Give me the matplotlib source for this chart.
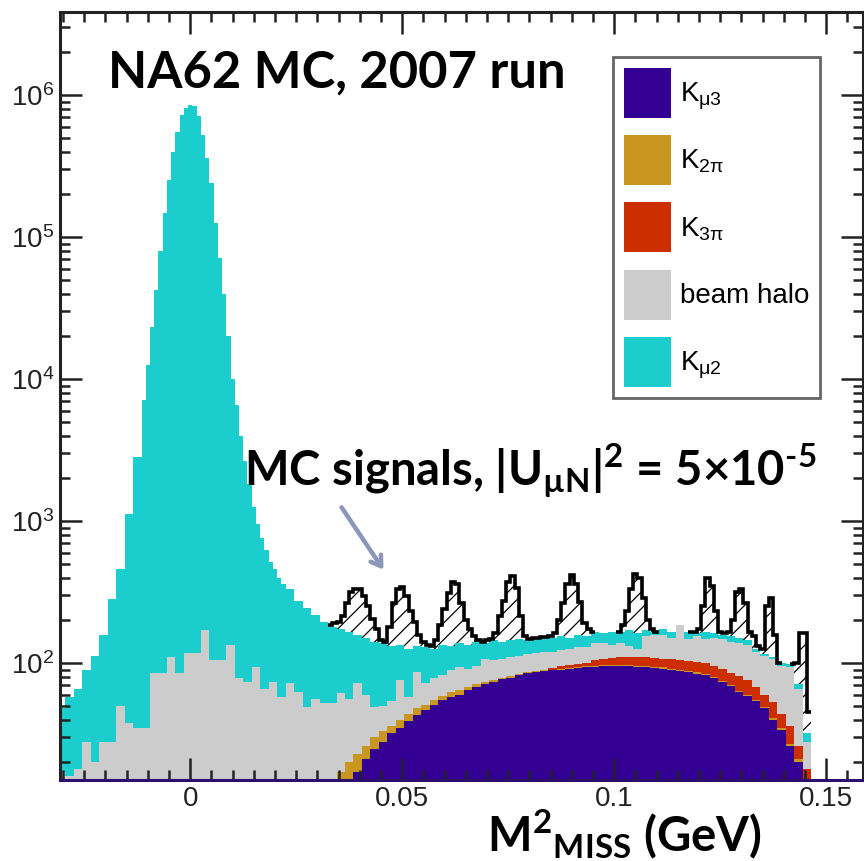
import numpy as np
import matplotlib.pyplot as plt
from matplotlib.patches import Patch
from matplotlib.ticker import MultipleLocator, LogLocator, NullFormatter, FuncFormatter

plt.rcParams['font.family'] = 'Liberation Sans'
plt.rcParams['mathtext.fontset'] = 'custom'
plt.rcParams['mathtext.rm'] = 'Lato:bold'
plt.rcParams['hatch.linewidth'] = 0.9
plt.rcParams['hatch.color'] = 'black'

# ---- histogram contents (cumulative stack heights, events / bin) ----
# K_mu2 on top of everything = total stack; variable binning around the peak
tot_left = [48, 58, 66, 89, 112, 158, 282, 457, 1120, 2820]
tot_peak = [7080, 12600, 23400, 42700, 79400, 148000, 251000, 398000, 550000, 724000,
            813000, 851000, 832000, 708000, 525000, 363000, 240000, 126000, 70800, 39800,
            20000, 10000, 6600, 4000, 2630, 1820, 1260, 955, 760, 630,
            513, 457, 398, 363]
tot_right = [331, 275, 245, 219, 195, 178, 174, 166, 158, 151,
             141, 138, 132, 135, 126, 132, 129, 126, 135, 132,
             138, 135, 141, 138, 145, 141, 145, 148, 145, 148,
             151, 151, 155, 151, 158, 155, 166, 162, 166, 166,
             170, 162, 170, 166, 174, 166, 186, 166, 162, 166,
             162, 158, 155, 151, 145, 126, 115, 110, 100, 98,
             71, 32, 0]

# beam halo + K3pi + K2pi + Kmu3
lvl_halo = [17, 16, 18, 28, 20, 28, 28, 50, 38, 35,
            35, 85, 85, 110, 85, 117, 117, 170, 105, 105,
            135, 78, 74, 93, 66, 74, 58, 72, 63, 49,
            56, 52, 52, 62, 56, 72, 60, 49, 50, 54,
            76, 58, 87, 72, 79, 83, 89, 93, 91, 95,
            107, 105, 107, 110, 112, 115, 117, 120, 120, 123,
            126, 129, 129, 138, 138, 135, 138, 132, 126, 155,
            158, 158, 151, 186, 148, 155, 148, 151, 148, 141,
            138, 135, 120, 112, 107, 95, 93, 66, 28, 0]

# K3pi + K2pi + Kmu3
lvl_k3pi = [0, 15, 17, 20, 23, 26, 30, 33, 36, 40,
            44, 48, 51, 55, 59, 63, 65, 68, 71, 73,
            76, 79, 81, 84, 86, 88, 90, 92, 95, 97,
            99, 100, 105, 107, 108, 110, 110, 110, 110, 108,
            107, 106, 105, 104, 102, 100, 96, 91, 85, 81,
            76, 68, 60, 53, 44, 36, 26, 18, 0]

# K2pi + Kmu3
lvl_k2pi = [0, 15, 17, 20, 23, 26, 30, 33, 36, 40,
            44, 48, 51, 55, 59, 63, 65, 68, 71, 73,
            76, 79, 81, 84, 86, 88, 89, 90, 91, 92,
            93, 95, 96, 97, 97, 97, 97, 96, 95, 94,
            93, 91, 90, 88, 86, 84, 80, 75, 70, 64,
            60, 55, 49, 41, 35, 27, 21, 15, 0]

# Kmu3
lvl_kmu3 = [0, 0, 0, 0, 17, 21, 25, 28, 32, 35,
            39, 43, 47, 51, 55, 58, 60, 65, 68, 71,
            74, 77, 79, 83, 85, 87, 88, 89, 90, 91,
            92, 93, 94, 95, 95, 95, 95, 94, 93, 92,
            91, 89, 88, 86, 84, 82, 78, 73, 69, 63,
            59, 54, 48, 40, 34, 26, 20, 14, 0]

# heavy neutrino signals (|U_muN|^2 = 5e-5), stacked on top of the background
sig_counts = [8, 12, 21, 40, 97, 150, 173, 173, 144, 100,
              63, 33, 7, 2, 46, 131, 196, 208, 169, 108,
              63, 26, 12, 6, 6, 19, 51, 105, 177, 240,
              225, 125, 65, 39, 14, 4, 2, 7, 2, 17,
              73, 134, 227, 262, 191, 66, 10, 2, 2, 2,
              2, 2, 3, 11, 45, 108, 212, 266, 205, 111,
              35, 19, 0, 0, 0, 0, 0, 0, 0, 20,
              64, 161, 265, 236, 118, 30, 8, 0, 0, 0,
              0, 0, 0, 0, 0, 0, 4, 12, 85, 232,
              185, 72, 8, 4, 11, 45, 165, 180, 118, 21,
              30, 5, 11, 136, 178, 48, 0, 0, 0, 0,
              29, 91, 130, 13, 0, 0]

labels = [r'K$_{\mathdefault{μ3}}$', r'K$_{\mathdefault{2π}}$', r'K$_{\mathdefault{3π}}$',
          'beam halo', r'K$_{\mathdefault{μ2}}$']
colors = ['#340094', '#c9961f', '#cc2e00', '#cccccc', '#1bcdcd']

# bin edges (GeV^2)
edges_tot = np.concatenate([np.linspace(-0.0315, -0.0115, 11),
                            np.linspace(-0.0115, 0.0225, 35)[1:],
                            np.linspace(0.0225, 0.1485, 64)[1:]])
edges_halo = np.linspace(-0.0315, 0.1485, 91)
edges_k = np.linspace(0.0305, 0.1485, 60)
edges_sig = np.linspace(0.0325, 0.1485, 117)

BASE = 1.0  # below the visible range on the log axis


def pos(v):
    v = np.asarray(v, dtype=float)
    return np.where(v > 0, v, BASE)


fig = plt.figure(figsize=(8.64, 8.61), dpi=100)
ax = fig.add_axes([60 / 864, 1 - 780 / 861, 803 / 864, 768 / 861])
ax.set_yscale('log')

tot = np.array(tot_left + tot_peak + tot_right, dtype=float)
layers = [(tot, edges_tot, colors[4]),
          (lvl_halo, edges_halo, colors[3]),
          (lvl_k3pi, edges_k, colors[2]),
          (lvl_k2pi, edges_k, colors[1]),
          (lvl_kmu3, edges_k, colors[0])]
for vals, edges, c in layers:
    ax.stairs(pos(vals), edges, baseline=BASE, fill=True, facecolor=c,
              edgecolor='none', linewidth=0)

# signal peaks: hatched region above the total background, black outline
sig = np.array(sig_counts, dtype=float)
bkg = np.repeat(np.array(tot_right[5:], dtype=float), 2)
top = bkg + sig
ax.stairs(top, edges_sig, baseline=pos(bkg), fill=True, facecolor='white',
          edgecolor='black', hatch='//', linewidth=0)

nz = np.flatnonzero(sig > 0)
for run in np.split(nz, np.flatnonzero(np.diff(nz) > 1) + 1):
    a, b = run[0], run[-1] + 1
    if a > 0 and top[a - 1] > 0:
        a -= 1
    if b < len(sig) and top[b] > 0:
        b += 1
    ax.stairs(top[a:b], edges_sig[a:b + 1], baseline=None,
              color='black', linewidth=2.6)

ax.set_xlim(-0.03073, 0.1587)
ax.set_ylim(15, 3.85e6)

# axes styling
for s in ax.spines.values():
    s.set_linewidth(2.2)
    s.set_color('#222222')
ax.spines['bottom'].set_color('#2b0f6b')
ax.xaxis.set_major_locator(MultipleLocator(0.05))
ax.xaxis.set_minor_locator(MultipleLocator(0.005))
ax.xaxis.set_major_formatter(FuncFormatter(lambda v, p: '%g' % round(v, 3)))
ax.yaxis.set_major_locator(LogLocator(base=10, numticks=20))
ax.yaxis.set_minor_locator(LogLocator(base=10, subs=np.arange(2, 10), numticks=20))
ax.yaxis.set_minor_formatter(NullFormatter())
ax.tick_params(which='both', direction='in', top=True, right=True,
               width=1.8, color='#222222')
ax.tick_params(which='major', length=16)
ax.tick_params(which='minor', length=7)
ax.tick_params(axis='x', which='major', labelsize=20, pad=4, labelcolor='#222222')
ax.tick_params(axis='y', which='major', labelsize=20, pad=4, labelcolor='#222222')

handles = [Patch(facecolor=c, edgecolor='none') for c in colors]
leg = ax.legend(handles, labels, loc='upper left',
                bbox_to_anchor=(613 / 864, 1 - 57 / 861), bbox_transform=fig.transFigure,
                fontsize=20, handlelength=1.7, handleheight=2.4, labelspacing=0.62,
                handletextpad=0.35, borderpad=0.38, borderaxespad=0,
                fancybox=False, framealpha=1, edgecolor='#666666')
leg.get_frame().set_linewidth(2)

bold = dict(family='Lato', weight='bold', color='black')
fig.text(108 / 864, 1 - 88 / 861, 'NA62 MC, 2007 run', size=36.5, va='baseline', **bold)
fig.text(244 / 864, 1 - 484 / 861,
         r'MC signals, |U$_{\mathdefault{µN}}$|$^{\mathdefault{2}}$ = 5×10$^{\text{-5}}$',
         size=34, va='baseline', **bold)
fig.text(487 / 864, 1 - 851 / 861,
         r'M$^{\mathdefault{2}}{}_{\mathdefault{MISS}}$ (GeV)',
         size=34, va='baseline', **bold)

ax.annotate('', xy=(385 / 864, 1 - 572 / 861), xytext=(340 / 864, 1 - 505 / 861),
            xycoords='figure fraction', textcoords='figure fraction',
            arrowprops=dict(arrowstyle='->,head_length=0.7,head_width=0.45',
                            color='#8a97b8', lw=3.2))

fig.savefig('out.png', dpi=100)
